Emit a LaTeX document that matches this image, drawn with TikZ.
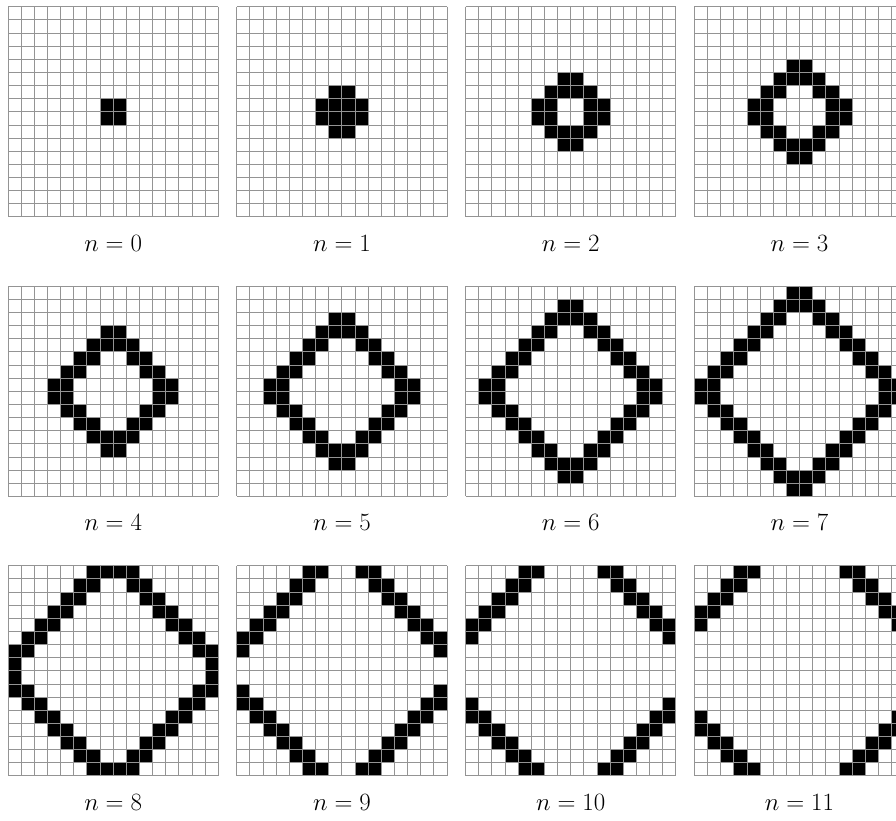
\documentclass[tikz,border=0pt]{standalone}
\begin{document}
\begin{tikzpicture}[x=1pt,y=-1pt,
  gridline/.style={draw=black!42,line width=0.9pt},
  oncell/.style={fill=black},
  lab/.style={inner sep=0pt,font=\fontsize{23}{28}\selectfont}]
\useasboundingbox (0,0) rectangle (896,821);
\clip (0,0) rectangle (896,821);
\def\cs{13.14}
\foreach \r in {0,1,2} {
  \foreach \c in {0,1,2,3} {
    \pgfmathtruncatemacro\n{4*\r+\c}
    \pgfmathsetmacro\xo{8+228.8*\c}
    \pgfmathsetmacro\yo{6.7+279.5*\r}
    \begin{scope}[shift={(\xo,\yo)}]
      \foreach \i in {0,...,15} {
        \foreach \j in {0,...,15} {
          \pgfmathtruncatemacro\m{\n-(abs(\i-7.5)+abs(\j-7.5)-1)}
          \ifnum\m>-1 \ifnum\m<2
            \fill[oncell] (\i*\cs,\j*\cs) rectangle ++(\cs,\cs);
          \fi\fi
        }
      }
      \foreach \k in {0,...,16} {
        \draw[gridline] (\k*\cs,0) -- (\k*\cs,16*\cs);
        \draw[gridline] (0,\k*\cs) -- (16*\cs,\k*\cs);
      }
      \node[lab] (lab\n) at (8*\cs,236.5) {$n=\n$};
    \end{scope}
  }
}
\end{tikzpicture}
\end{document}
